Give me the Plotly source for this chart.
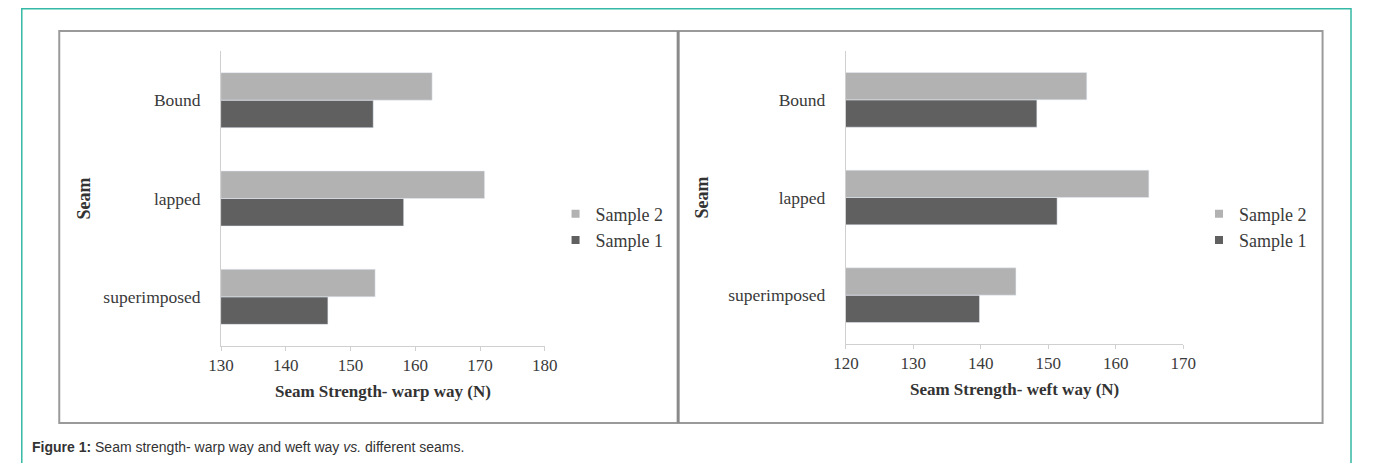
import plotly.graph_objects as go

# page has an 8px body margin, so the figure is a bit smaller than the window
OFF = 8
W, H = 1373 - 2 * OFF, 471 - 2 * OFF

# data
seams = ["superimposed", "lapped", "Bound"]
warp_sample1 = [146.5, 158.2, 153.5]
warp_sample2 = [153.8, 170.7, 162.6]
weft_sample1 = [139.8, 151.3, 148.3]
weft_sample2 = [145.2, 164.9, 155.7]
warp_ticks = [130, 140, 150, 160, 170, 180]
weft_ticks = [120, 130, 140, 150, 160, 170]

DARK = "#606060"
LIGHT = "#b2b2b2"
SERIF = "Liberation Serif, Times New Roman, serif"
TXT = "#3a3a3a"


def px(x):
    return (x - OFF) / W


def py(y):
    return 1 - (y - OFF) / H


fig = go.Figure()

for xa, ya, lg, s1, s2 in [("x", "y", "legend", warp_sample1, warp_sample2),
                           ("x2", "y2", "legend2", weft_sample1, weft_sample2)]:
    fig.add_trace(go.Bar(y=seams, x=s1, orientation="h", name="Sample 1",
                         marker_color=DARK, xaxis=xa, yaxis=ya, showlegend=False))
    fig.add_trace(go.Bar(y=seams, x=s2, orientation="h", name="Sample 2",
                         marker_color=LIGHT, xaxis=xa, yaxis=ya, showlegend=False))
    # legend entries with small square keys
    for name, col in [("Sample 1", DARK), ("Sample 2", LIGHT)]:
        fig.add_trace(go.Scatter(x=[None], y=[None], mode="markers", name=name,
                                 marker=dict(symbol="square", size=8, color=col),
                                 xaxis=xa, yaxis=ya, legend=lg, legendgroup=lg + name))

xcommon = dict(showgrid=False, zeroline=False, showline=True, linecolor="#d0d0d0",
               linewidth=1, ticks="outside", ticklen=4, tickcolor="#d0d0d0",
               tickfont=dict(family=SERIF, size=17, color=TXT), dtick=10)
ycommon = dict(showgrid=False, zeroline=False, showline=True, linecolor="#d0d0d0",
               linewidth=1, ticks="", ticklabelstandoff=16,
               tickfont=dict(family=SERIF, size=17.5, color=TXT),
               categoryorder="array", categoryarray=seams)
legcommon = dict(xanchor="left", yanchor="middle", traceorder="reversed",
                 itemwidth=30, tracegroupgap=10, bgcolor="rgba(0,0,0,0)",
                 font=dict(family=SERIF, size=18, color=TXT))

fig.update_layout(
    width=W, height=H,
    margin=dict(l=0, r=0, t=0, b=0),
    paper_bgcolor="white", plot_bgcolor="white",
    barmode="group", bargap=0.44, bargroupgap=0,
    xaxis=dict(xcommon, domain=[px(212), px(542)], anchor="y",
               range=[warp_ticks[0], warp_ticks[-1]], tickvals=warp_ticks,
               title=dict(text="<b>Seam Strength- warp way (N)</b>", standoff=10,
                          font=dict(family=SERIF, size=17, color="#333333"))),
    yaxis=dict(ycommon, domain=[py(346), py(51)], anchor="x",
               title=dict(text="<b>Seam</b>", standoff=8,
                          font=dict(family=SERIF, size=18, color="#333333"))),
    xaxis2=dict(xcommon, domain=[px(849), px(1193)], anchor="y2",
                range=[weft_ticks[0], weft_ticks[-1]], tickvals=weft_ticks,
                title=dict(text="<b>Seam Strength- weft way (N)</b>", standoff=10,
                           font=dict(family=SERIF, size=17, color="#333333"))),
    yaxis2=dict(ycommon, domain=[py(344), py(51)], anchor="x2",
                title=dict(text="<b>Seam</b>", standoff=14,
                           font=dict(family=SERIF, size=18, color="#333333"))),
    legend=dict(legcommon, x=px(553), y=py(227)),
    legend2=dict(legcommon, x=px(1209), y=py(227)),
    showlegend=True,
)

# frames: teal outer border, grey chart box, divider
fig.add_shape(type="rect", xref="paper", yref="paper",
              x0=px(8.8), x1=px(1364), y0=py(480), y1=py(8.8),
              line=dict(color="#35b9a6", width=1.5))
fig.add_shape(type="rect", xref="paper", yref="paper",
              x0=px(47), x1=px(1335), y0=py(423), y1=py(31),
              line=dict(color="#9a9a9a", width=2))
fig.add_shape(type="line", xref="paper", yref="paper",
              x0=px(678), x1=px(678), y0=py(423), y1=py(31),
              line=dict(color="#8a8a8a", width=3))

fig.add_annotation(xref="paper", yref="paper", x=px(17), y=py(447),
                   xanchor="left", yanchor="middle", showarrow=False,
                   text="<b>Figure 1:</b> Seam strength- warp way and weft way <i>vs.</i> different seams.",
                   font=dict(family="Liberation Sans, Arial, sans-serif", size=14, color="#333333"))

fig.write_html("out.html")
